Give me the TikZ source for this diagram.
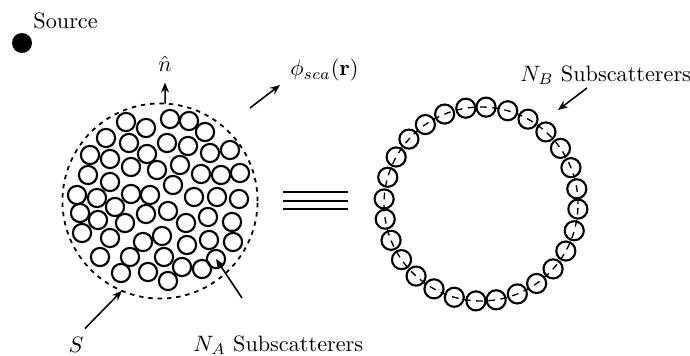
\documentclass[tikz,border=0pt]{standalone}
\usepackage{amsmath, amssymb}
\usepackage{tikz}
\usetikzlibrary{arrows.meta,positioning,calc}

\begin{document}
\begin{tikzpicture}[x=0.45pt,y=-0.45pt,
  sub/.style={circle,draw,line width=0.95pt,minimum size=8.2pt,inner sep=0pt},
  bord/.style={circle,draw,dashed,dash pattern=on 2pt off 2.2pt,line width=0.8pt,
               inner sep=0pt,outer sep=0pt},
  fleche/.style={-{Stealth[length=4.5pt,width=3.6pt]},line width=0.7pt},
  lbl/.style={inner sep=0pt,font=\normalsize}]

  \useasboundingbox (0,0) rectangle (690,356);

  % Source
  \node[circle,fill,minimum size=9pt,inner sep=0pt] (srcdot) at (22,43) {};
  \node[lbl,anchor=base west] (source) at (33,28) {Source};

  % Diffuseur A
  \node[bord,minimum size=87.8pt] (disk) at (160,201) {};
  \foreach \x/\y [count=\i] in {126/122,146/128,170/119,189/121,205/132,106/138,129/143,
      167/143,188/146,147/154,210/153,230/150,90/155,110/159,131/167,157/170,180/165,
      201/174,221/175,240/173,88/175,110/182,173/185,77/195,97/198,131/194,150/195,
      194/197,217/197,239/199,80/213,115/207,98/220,125/223,146/214,168/211,186/223,
      208/217,232/222,82/233,110/238,143/242,162/236,187/245,209/240,233/242,100/257,
      130/257,164/257,216/259,182/267,202/269,121/273,148/272,168/281}
    \node[sub] (a\i) at (\x,\y) {};

  \node[lbl,anchor=base] (nhat) at (165,71) {$\hat{n}$};
  \draw[fleche] (disk.87) -- ([yshift=-5pt]nhat.south);

  \node[lbl,anchor=base west] (phi) at (290,76) {$\phi_{sca}(\mathbf{r})$};
  \coordinate (phiA) at (250,108);
  \coordinate (phiB) at (280,85);
  \draw[fleche] (phiA) -- (phiB);

  \node[lbl,anchor=base] (S) at (76,352) {$S$};
  \draw[fleche] ([shift={(4pt,3.5pt)}]S.north) -- (disk.247);

  \node[lbl,anchor=base west] (na) at (193,351) {$N_A$ Subscatterers};
  \coordinate (naA) at (242,298);
  \draw[fleche] (naA) -- (a50.center);

  % Equivalence
  \foreach \y in {192,201,209} \draw[line width=0.9pt] (283,\y) -- (348,\y);

  % Diffuseur B
  \node[bord,dash pattern=on 3pt off 2.5pt,line width=0.6pt,minimum size=87.3pt]
    (anneau) at (481,204) {};
  \foreach \i in {0,...,27}
    \node[sub,minimum size=8.6pt] (b\i) at (anneau.{87+\i*360/28}) {};

  \node[lbl,anchor=base west] (nb) at (520,81) {$N_B$ Subscatterers};
  \coordinate (nbA) at (587,88);
  \coordinate (nbB) at (558,110);
  \draw[fleche] (nbA) -- (nbB);
\end{tikzpicture}
\end{document}
